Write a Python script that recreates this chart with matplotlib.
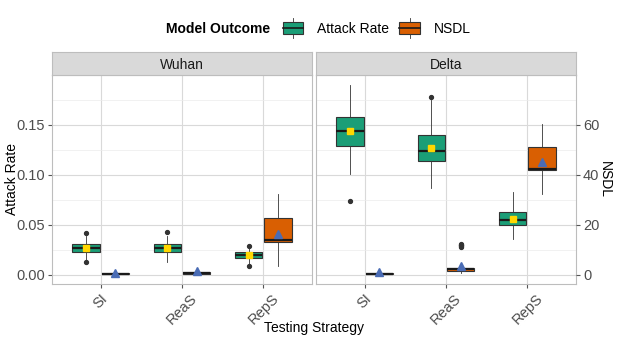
import matplotlib
matplotlib.use("Agg")
import matplotlib.pyplot as plt
from matplotlib.patches import Patch, Rectangle
from matplotlib.lines import Line2D
from matplotlib.legend_handler import HandlerBase

plt.rcParams["font.family"] = ["Liberation Sans", "DejaVu Sans"]
plt.rcParams["font.size"] = 10

strategies = ["SI", "ReaS", "RepS"]
variants = ["Wuhan", "Delta"]

# attack rate boxes (per strategy)
wuhan_ar_lo = [0.0150, 0.0127, 0.0110]
wuhan_ar_q1 = [0.0227, 0.0227, 0.0170]
wuhan_ar_med = [0.0265, 0.0266, 0.0195]
wuhan_ar_q3 = [0.0306, 0.0306, 0.0223]
wuhan_ar_hi = [0.0390, 0.0390, 0.0270]
wuhan_ar_mean = [0.0266, 0.0266, 0.0195]
wuhan_ar_out = [[0.0127, 0.0416], [0.0426], [0.0090, 0.0290]]

delta_ar_lo = [0.1005, 0.0871, 0.0359]
delta_ar_q1 = [0.1287, 0.1141, 0.0492]
delta_ar_med = [0.1437, 0.1241, 0.0542]
delta_ar_q3 = [0.1584, 0.1397, 0.0629]
delta_ar_hi = [0.1903, 0.1750, 0.0831]
delta_ar_mean = [0.1437, 0.1267, 0.0556]
delta_ar_out = [[0.0732], [0.1780], []]

# NSDL boxes (per strategy)
wuhan_nsdl_lo = [0.0, 0.0, 3.3]
wuhan_nsdl_q1 = [0.1, 0.4, 13.0]
wuhan_nsdl_med = [0.3, 0.6, 13.9]
wuhan_nsdl_q3 = [0.5, 1.0, 22.6]
wuhan_nsdl_hi = [1.0, 2.4, 32.2]
wuhan_nsdl_mean = [0.7, 1.6, 16.4]
wuhan_nsdl_out = [[], [], []]

delta_nsdl_lo = [0.0, 0.7, 32.2]
delta_nsdl_q1 = [0.2, 1.6, 41.9]
delta_nsdl_med = [0.4, 2.1, 42.2]
delta_nsdl_q3 = [0.6, 2.7, 51.1]
delta_nsdl_hi = [1.0, 3.5, 60.4]
delta_nsdl_mean = [1.0, 3.3, 45.2]
delta_nsdl_out = [[], [11.0, 11.3, 11.7, 12.0, 12.4], []]

GREEN = "#1B9E77"
ORANGE = "#D95F02"
EDGE = "#333333"
SCALE = 400  # NSDL = Attack Rate * 400 on the secondary axis
YLIM = (-0.0095, 0.2)


def make_stats(lo, q1, med, q3, hi, mean, out):
    return [dict(whislo=lo[i], q1=q1[i], med=med[i], q3=q3[i], whishi=hi[i],
                 mean=mean[i], fliers=out[i]) for i in range(len(q1))]


def draw_boxes(ax, stats, offset, color, mean_marker, mean_color, mean_size):
    pos = [i + 1 + offset for i in range(len(stats))]
    res = ax.bxp(stats, positions=pos, widths=0.34, patch_artist=True,
                 showmeans=True, showcaps=False, manage_ticks=False,
                 boxprops=dict(facecolor=color, edgecolor=EDGE, linewidth=0.8),
                 medianprops=dict(color="#1a1a1a", linewidth=1.6),
                 whiskerprops=dict(color=EDGE, linewidth=0.6),
                 flierprops=dict(marker="o", markerfacecolor=EDGE, markeredgecolor=EDGE,
                                 markersize=2.8),
                 meanprops=dict(marker=mean_marker, markerfacecolor=mean_color,
                                markeredgecolor=mean_color, markersize=mean_size))
    return res


class BoxKey(HandlerBase):
    def create_artists(self, legend, orig_handle, xdescent, ydescent, width, height, fontsize, trans):
        x0, y0 = -xdescent, -ydescent
        mid = x0 + width / 2
        top = Line2D([mid, mid], [y0 + height, y0 + height * 1.3], color=EDGE, lw=0.6, transform=trans)
        bot = Line2D([mid, mid], [y0 - height * 0.3, y0], color=EDGE, lw=0.6, transform=trans)
        rect = Rectangle((x0, y0), width, height, facecolor=orig_handle.get_facecolor(),
                         edgecolor=EDGE, lw=0.8, transform=trans)
        med = Line2D([x0, x0 + width], [y0 + height / 2] * 2, color="#1a1a1a", lw=1.2, transform=trans)
        return [top, bot, rect, med]


fig = plt.figure(figsize=(6.17, 3.43), dpi=100)

ar_data = {
    "Wuhan": make_stats(wuhan_ar_lo, wuhan_ar_q1, wuhan_ar_med, wuhan_ar_q3, wuhan_ar_hi, wuhan_ar_mean, wuhan_ar_out),
    "Delta": make_stats(delta_ar_lo, delta_ar_q1, delta_ar_med, delta_ar_q3, delta_ar_hi, delta_ar_mean, delta_ar_out),
}
nsdl_data = {
    "Wuhan": make_stats(wuhan_nsdl_lo, wuhan_nsdl_q1, wuhan_nsdl_med, wuhan_nsdl_q3, wuhan_nsdl_hi, wuhan_nsdl_mean, wuhan_nsdl_out),
    "Delta": make_stats(delta_nsdl_lo, delta_nsdl_q1, delta_nsdl_med, delta_nsdl_q3, delta_nsdl_hi, delta_nsdl_mean, delta_nsdl_out),
}

lefts = [52 / 617, 316 / 617]
w = 260 / 617
bottom = 1 - 284 / 343
h = 209 / 343
strip_h = 22.7 / 343
TICK_FS = 10.5

for k, var in enumerate(variants):
    ax = fig.add_axes([lefts[k], bottom, w, h])
    ax.set_xlim(0.4, 3.6)
    ax.set_ylim(*YLIM)
    ax.set_yticks([0, 0.05, 0.10, 0.15])
    ax.set_yticks([0.025, 0.075, 0.125, 0.175], minor=True)
    ax.set_xticks([1, 2, 3])
    ax.set_xticklabels(strategies, rotation=45, ha="center", va="top", color="#4D4D4D")
    ax.set_axisbelow(True)
    ax.grid(True, which="major", color="#D9D9D9", linewidth=0.8)
    ax.grid(True, which="minor", axis="y", color="#EBEBEB", linewidth=0.5)
    ax.tick_params(axis="both", which="major", length=3, color="#555555", labelcolor="#4D4D4D",
                   labelsize=TICK_FS, pad=2)
    ax.tick_params(axis="x", pad=2)
    ax.tick_params(which="minor", length=0)
    for sp in ax.spines.values():
        sp.set_color("#BDBDBD")
        sp.set_linewidth(0.8)

    draw_boxes(ax, ar_data[var], -0.18, GREEN, "s", "#FFD700", 5)

    tw = ax.twinx()
    tw.set_ylim(YLIM[0] * SCALE, YLIM[1] * SCALE)
    draw_boxes(tw, nsdl_data[var], 0.18, ORANGE, "^", "#4A6CB5", 6)
    for sp in tw.spines.values():
        sp.set_visible(False)

    if k == 0:
        ax.yaxis.set_major_formatter(plt.FormatStrFormatter("%.2f"))
        tw.set_yticks([])
    else:
        ax.tick_params(axis="y", which="both", left=False, labelleft=False)
        tw.set_yticks([0, 20, 40, 60])
        tw.tick_params(axis="y", length=3, color="#555555", labelcolor="#4D4D4D",
                       labelsize=TICK_FS, pad=2)

    # facet strip
    sax = fig.add_axes([lefts[k], bottom + h, w, strip_h])
    sax.set_facecolor("#D9D9D9")
    sax.set_xticks([])
    sax.set_yticks([])
    for sp in sax.spines.values():
        sp.set_color("#BDBDBD")
        sp.set_linewidth(0.8)
    sax.text(0.5, 0.45, var, ha="center", va="center", fontsize=10, color="#1A1A1A",
             transform=sax.transAxes)

fig.text(0.019, bottom + h / 2, "Attack Rate", rotation=90, ha="center", va="center", fontsize=10)
fig.text(0.981, bottom + h / 2, "NSDL", rotation=270, ha="center", va="center", fontsize=10)
fig.text((52 + 576) / 2 / 617, 0.044, "Testing Strategy", ha="center", va="center", fontsize=10)

# legend on top
fig.text(166 / 617, 1 - 29 / 343, "Model Outcome", fontweight="bold", ha="left", va="center", fontsize=10)
handles = [Patch(facecolor=GREEN), Patch(facecolor=ORANGE)]
fig.legend(handles, ["Attack Rate", "NSDL"], handler_map={Patch: BoxKey()},
           loc="center left", bbox_to_anchor=(283 / 617, 1 - 29 / 343), ncol=2, frameon=False,
           handlelength=1.45, handleheight=1.0, handletextpad=1.0, columnspacing=0.75,
           borderpad=0, borderaxespad=0, fontsize=10)

fig.savefig("out.png", dpi=100)
